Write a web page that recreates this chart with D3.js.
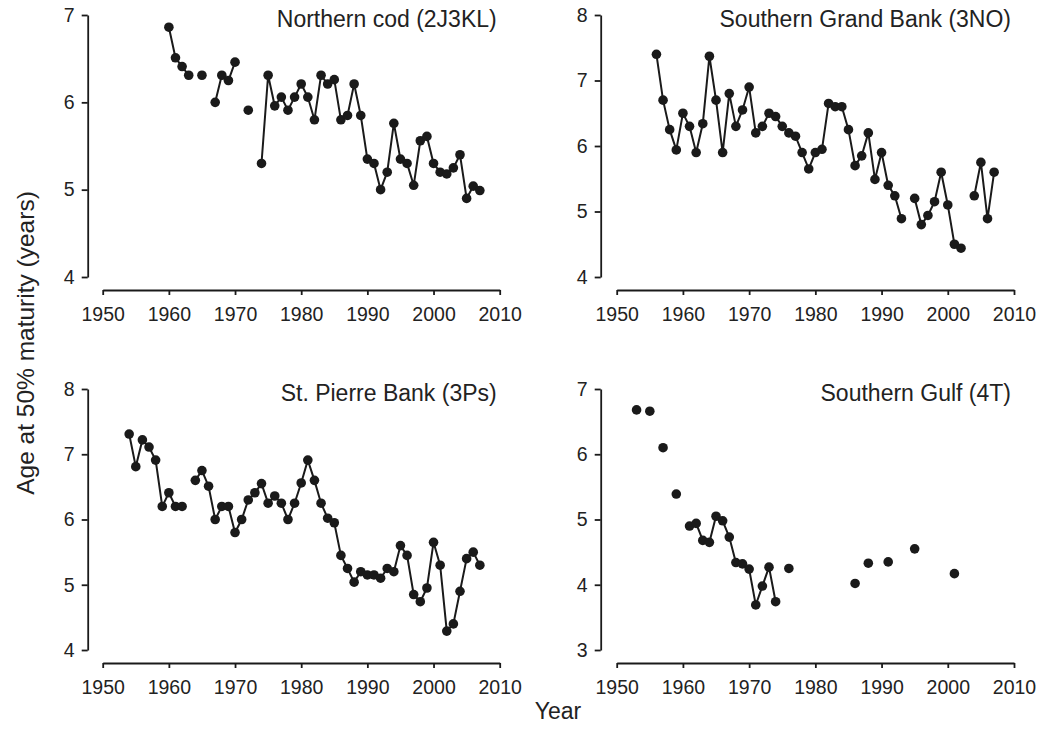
<!DOCTYPE html>
<html>
<head>
<meta charset="utf-8">
<script src="https://cdn.jsdelivr.net/npm/d3@7"></script>
<style>
  body { margin: 0; background: #fff; }
  svg { display: block; font-family: "Liberation Sans", Arial, Helvetica, sans-serif; }
  .axis path, .axis line { stroke: #1a1a1a; stroke-width: 1.8; }
  .axis text { fill: #222; font-size: 19.5px; }
</style>
</head>
<body>
<svg id="chart" width="1039" height="729"></svg>
<script>
// Northern cod (2J3KL) - null breaks the line
const codYears = [1960, 1961, 1962, 1963, 1964, 1965, 1966, 1967, 1968, 1969, 1970, 1971, 1972, 1973,
  1974, 1975, 1976, 1977, 1978, 1979, 1980, 1981, 1982, 1983, 1984, 1985, 1986, 1987, 1988, 1989,
  1990, 1991, 1992, 1993, 1994, 1995, 1996, 1997, 1998, 1999, 2000, 2001, 2002, 2003, 2004, 2005, 2006, 2007];
const codAge = [6.86, 6.51, 6.41, 6.31, null, 6.31, null, 6.00, 6.31, 6.25, 6.46, null, 5.91, null,
  5.30, 6.31, 5.96, 6.06, 5.91, 6.06, 6.21, 6.06, 5.80, 6.31, 6.21, 6.26, 5.80, 5.85, 6.21, 5.85,
  5.35, 5.30, 5.00, 5.20, 5.76, 5.35, 5.30, 5.05, 5.56, 5.61, 5.30, 5.20, 5.18, 5.25, 5.40, 4.90, 5.04, 4.99];

// Southern Grand Bank (3NO)
const sgbYears = [1956, 1957, 1958, 1959, 1960, 1961, 1962, 1963, 1964, 1965, 1966, 1967, 1968, 1969,
  1970, 1971, 1972, 1973, 1974, 1975, 1976, 1977, 1978, 1979, 1980, 1981, 1982, 1983, 1984, 1985,
  1986, 1987, 1988, 1989, 1990, 1991, 1992, 1993, 1994, 1995, 1996, 1997, 1998, 1999, 2000, 2001,
  2002, 2003, 2004, 2005, 2006, 2007];
const sgbAge = [7.40, 6.70, 6.25, 5.94, 6.50, 6.30, 5.90, 6.34, 7.37, 6.70, 5.90, 6.80, 6.30, 6.55,
  6.90, 6.20, 6.30, 6.50, 6.45, 6.30, 6.20, 6.15, 5.90, 5.65, 5.90, 5.95, 6.65, 6.60, 6.60, 6.25,
  5.70, 5.85, 6.20, 5.49, 5.90, 5.40, 5.24, 4.89, null, 5.20, 4.80, 4.94, 5.15, 5.60, 5.10, 4.50,
  4.44, null, 5.24, 5.75, 4.89, 5.60];

// St. Pierre Bank (3Ps)
const spbYears = [1954, 1955, 1956, 1957, 1958, 1959, 1960, 1961, 1962, 1963, 1964, 1965, 1966, 1967,
  1968, 1969, 1970, 1971, 1972, 1973, 1974, 1975, 1976, 1977, 1978, 1979, 1980, 1981, 1982, 1983,
  1984, 1985, 1986, 1987, 1988, 1989, 1990, 1991, 1992, 1993, 1994, 1995, 1996, 1997, 1998, 1999,
  2000, 2001, 2002, 2003, 2004, 2005, 2006, 2007];
const spbAge = [7.31, 6.81, 7.22, 7.11, 6.91, 6.20, 6.41, 6.20, 6.20, null, 6.60, 6.75, 6.51, 6.00,
  6.20, 6.20, 5.80, 6.00, 6.30, 6.41, 6.55, 6.25, 6.36, 6.25, 6.00, 6.25, 6.56, 6.91, 6.60, 6.25,
  6.02, 5.95, 5.45, 5.25, 5.04, 5.20, 5.15, 5.15, 5.10, 5.25, 5.20, 5.60, 5.45, 4.85, 4.74, 4.95,
  5.65, 5.30, 4.29, 4.40, 4.90, 5.40, 5.50, 5.30];

// Southern Gulf (4T)
const sgYears = [1953, 1954, 1955, 1956, 1957, 1958, 1959, 1960, 1961, 1962, 1963, 1964, 1965, 1966,
  1967, 1968, 1969, 1970, 1971, 1972, 1973, 1974, 1975, 1976, 1977, 1986, 1987, 1988, 1989, 1991,
  1992, 1995, 1996, 2001];
const sgAge = [6.68, null, 6.66, null, 6.10, null, 5.39, null, 4.90, 4.94, 4.68, 4.65, 5.05, 4.98,
  4.73, 4.34, 4.32, 4.24, 3.69, 3.98, 4.27, 3.74, null, 4.25, null, 4.02, null, 4.33, null, 4.35,
  null, 4.55, null, 4.17];

const titles = ["Northern cod (2J3KL)", "Southern Grand Bank (3NO)", "St. Pierre Bank (3Ps)", "Southern Gulf (4T)"];
const yDomains = [[4, 7], [4, 8], [4, 8], [3, 7]];
const xTicks = [1950, 1960, 1970, 1980, 1990, 2000, 2010];

const panels = [
  { title: titles[0], years: codYears, age: codAge, yDom: yDomains[0], x0: 102.7, x1: 499.7, yTop: 15, yBot: 277, axX: 87.7, axY: 290 },
  { title: titles[1], years: sgbYears, age: sgbAge, yDom: yDomains[1], x0: 616.7, x1: 1014, yTop: 15, yBot: 277, axX: 600.7, axY: 290 },
  { title: titles[2], years: spbYears, age: spbAge, yDom: yDomains[2], x0: 102.7, x1: 499.7, yTop: 389, yBot: 650, axX: 87.7, axY: 663 },
  { title: titles[3], years: sgYears, age: sgAge, yDom: yDomains[3], x0: 616.7, x1: 1014, yTop: 389, yBot: 650, axX: 600.7, axY: 663 }
];

const svg = d3.select("#chart");
const ink = "#1a1a1a";

panels.forEach(p => {
  const x = d3.scaleLinear().domain([1950, 2010]).range([p.x0, p.x1]);
  const y = d3.scaleLinear().domain(p.yDom).range([p.yBot, p.yTop]);
  const g = svg.append("g");

  // axes in R style: detached, outward ticks
  g.append("g")
    .attr("class", "axis")
    .attr("transform", `translate(0,${p.axY})`)
    .call(d3.axisBottom(x).tickValues(xTicks).tickFormat(d3.format("d")).tickSize(5).tickSizeOuter(0).tickPadding(12));

  g.append("g")
    .attr("class", "axis")
    .attr("transform", `translate(${p.axX},0)`)
    .call(d3.axisLeft(y).ticks(p.yDom[1] - p.yDom[0]).tickFormat(d3.format("d")).tickSize(6).tickSizeOuter(0).tickPadding(7));

  const pts = p.years.map((yr, i) => ({ year: yr, age: p.age[i] }));

  const line = d3.line()
    .defined(d => d.age !== null)
    .x(d => x(d.year))
    .y(d => y(d.age));

  g.append("path")
    .datum(pts)
    .attr("fill", "none")
    .attr("stroke", ink)
    .attr("stroke-width", 2)
    .attr("d", line);

  g.selectAll("circle")
    .data(pts.filter(d => d.age !== null))
    .join("circle")
    .attr("cx", d => x(d.year))
    .attr("cy", d => y(d.age))
    .attr("r", 4.8)
    .attr("fill", ink);

  g.append("text")
    .attr("x", x(2010) - 3)
    .attr("y", p.yTop + 4)
    .attr("dy", "0.35em")
    .attr("text-anchor", "end")
    .attr("font-size", "23px")
    .attr("fill", "#222")
    .text(p.title);
});

// shared axis titles
svg.append("text")
  .attr("transform", "translate(25,343) rotate(-90)")
  .attr("dy", "0.35em")
  .attr("text-anchor", "middle")
  .attr("font-size", "24.5px")
  .attr("fill", "#222")
  .text("Age at 50% maturity (years)");

svg.append("text")
  .attr("x", 558)
  .attr("y", 711)
  .attr("dy", "0.35em")
  .attr("text-anchor", "middle")
  .attr("font-size", "23px")
  .attr("fill", "#222")
  .text("Year");
</script>
</body>
</html>
